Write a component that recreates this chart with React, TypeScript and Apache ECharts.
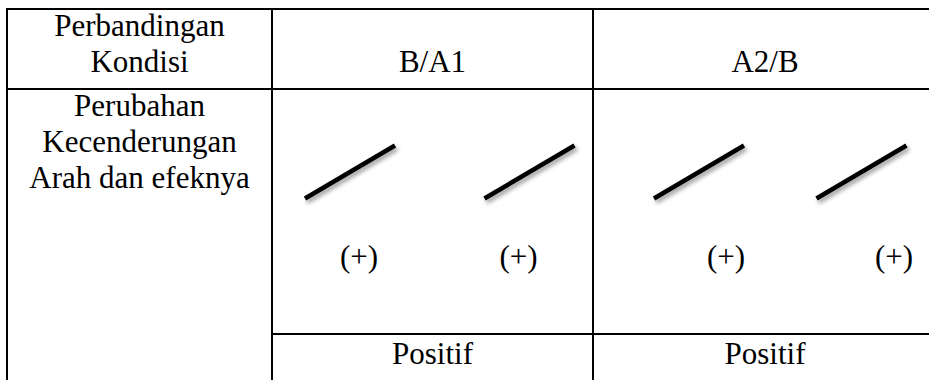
import React, { useEffect, useRef } from "react";
import * as echarts from "echarts";

// ---- data ----
const headerLabel = ["Perbandingan", "Kondisi"];
const conditions = ["B/A1", "A2/B"];
const rowLabel = ["Perubahan", "Kecenderungan", "Arah dan efeknya"];
// +1 = rising trend, -1 = falling trend (two per condition)
const trendDirections = [
  [1, 1],
  [1, 1],
];
const trendSigns = [
  ["(+)", "(+)"],
  ["(+)", "(+)"],
];
const effects = ["Positif", "Positif"];

// ---- layout ----
const W = 929;
const H = 380;
const FAMILY = "'Liberation Serif', 'Times New Roman', serif";
const FS = 31;
const CENTRAL = 0.3375; // central baseline offset (em) above the alphabetic baseline
const COL_X = [7, 272, 593, 937]; // vertical rules
const ROW_Y = [9, 89, 334]; // horizontal rules
const COL_CENTER = [139.5, 432.5, 765];
const HEADER_BASELINES = [36, 72];
const ROW_BASELINES = [116, 152, 188];
const TREND_X = [
  [350, 529.5],
  [699, 861.5],
];
const TREND_CY = 172;
const TREND_DX = 45;
const TREND_DY = 26.5;
const SIGN_X = [
  [359, 518.5],
  [726, 894],
];
const SIGN_BASELINE = 267;
const EFFECT_BASELINE = 364;

function txt(s: string, x: number, baseline: number) {
  return {
    type: "text",
    x,
    y: baseline - CENTRAL * FS,
    silent: true,
    style: {
      text: s,
      fill: "#000",
      font: `normal ${FS}px ${FAMILY}`,
      align: "center",
      verticalAlign: "middle",
    },
  };
}

function rule(x1: number, y1: number, x2: number, y2: number) {
  return {
    type: "line",
    silent: true,
    shape: { x1, y1, x2, y2 },
    style: { stroke: "#000", lineWidth: 2 },
  };
}

export default function App() {
  const ref = useRef<HTMLDivElement>(null);
  useEffect(() => {
    if (!ref.current) return;
    const chart = echarts.init(ref.current, null, { renderer: "svg", width: W, height: H });
    const els: any[] = [];
    // table rules
    els.push(rule(COL_X[0] - 1, ROW_Y[0], W + 5, ROW_Y[0]));
    els.push(rule(COL_X[0] - 1, ROW_Y[1], W + 5, ROW_Y[1]));
    els.push(rule(COL_X[1] - 1, ROW_Y[2], W + 5, ROW_Y[2]));
    els.push(rule(COL_X[0], ROW_Y[0] - 1, COL_X[0], H + 5));
    els.push(rule(COL_X[1], ROW_Y[0] - 1, COL_X[1], H + 5));
    els.push(rule(COL_X[2], ROW_Y[0] - 1, COL_X[2], H + 5));
    els.push(rule(COL_X[3], ROW_Y[0] - 1, COL_X[3], H + 5));

    // header row
    headerLabel.forEach((s, i) => els.push(txt(s, COL_CENTER[0], HEADER_BASELINES[i])));
    conditions.forEach((s, i) =>
      els.push(txt(s, COL_CENTER[i + 1], HEADER_BASELINES[HEADER_BASELINES.length - 1]))
    );
    // merged row label
    rowLabel.forEach((s, i) => els.push(txt(s, COL_CENTER[0], ROW_BASELINES[i])));

    // trend lines and signs
    trendDirections.forEach((dirs, c) => {
      dirs.forEach((d, k) => {
        const cx = TREND_X[c][k];
        els.push({
          type: "line",
          silent: true,
          shape: {
            x1: cx - TREND_DX,
            y1: TREND_CY + d * TREND_DY,
            x2: cx + TREND_DX,
            y2: TREND_CY - d * TREND_DY,
          },
          style: {
            stroke: "#000",
            lineWidth: 4.5,
            lineCap: "butt",
            shadowColor: "rgba(0,0,0,0.4)",
            shadowBlur: 4,
            shadowOffsetX: 2,
            shadowOffsetY: 3,
          },
        });
        els.push(txt(trendSigns[c][k], SIGN_X[c][k], SIGN_BASELINE));
      });
    });

    // effects
    effects.forEach((s, i) => els.push(txt(s, COL_CENTER[i + 1], EFFECT_BASELINE)));

    chart.setOption({
      animation: false,
      backgroundColor: "#fff",
      graphic: { elements: els },
    });
    return () => chart.dispose();
  }, []);
  return (
    <div
      ref={ref}
      style={{ position: "fixed", left: 0, top: 0, width: W, height: H, background: "#fff" }}
    />
  );
}
